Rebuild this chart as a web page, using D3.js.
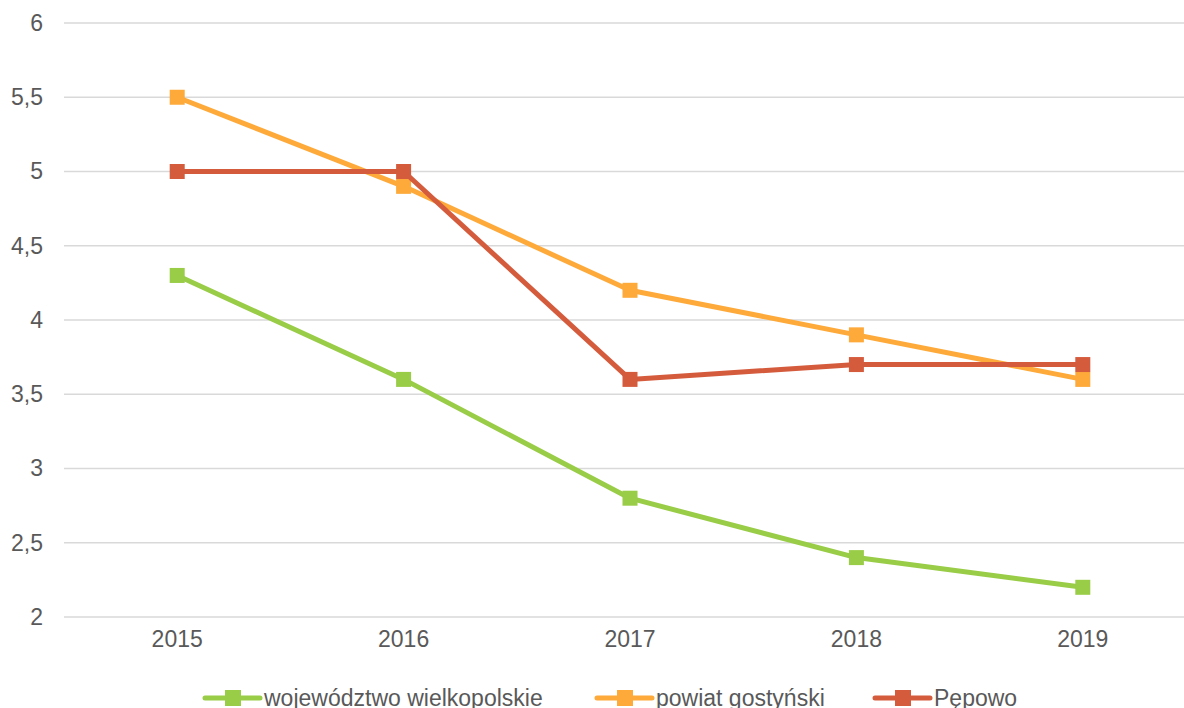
<!DOCTYPE html>
<html>
<head>
<meta charset="utf-8">
<script src="https://cdn.jsdelivr.net/npm/d3@7"></script>
<style>
  body { margin: 0; background: #fff; }
  svg { display: block; font-family: "Liberation Sans", Arial, sans-serif; }
</style>
</head>
<body>
<svg width="1184" height="708"></svg>
<script>
// data
var years = ["2015", "2016", "2017", "2018", "2019"];
var wielkopolskie = [4.3, 3.6, 2.8, 2.4, 2.2];
var gostynski = [5.5, 4.9, 4.2, 3.9, 3.6];
var pepowo = [5, 5, 3.6, 3.7, 3.7];
var yTicks = [2, 2.5, 3, 3.5, 4, 4.5, 5, 5.5, 6];
var seriesNames = ["województwo wielkopolskie", "powiat gostyński", "Pępowo"];
var colors = ["#99cc47", "#fdaa3b", "#d55b3d"];

var series = [wielkopolskie, gostynski, pepowo];

//plot area
var plotLeft = 64, plotRight = 1196, plotTop = 23, plotBottom = 617;

var svg = d3.select("svg");

var x = d3.scaleBand()
  .domain(years)
  .range([plotLeft, plotRight]);
var y = d3.scaleLinear()
  .domain([2, 6])
  .range([plotBottom, plotTop]);

//gridlines
svg.append("g")
  .selectAll("line")
  .data(yTicks)
  .enter().append("line")
  .attr("x1", plotLeft)
  .attr("x2", plotRight)
  .attr("y1", function(d) { return y(d); })
  .attr("y2", function(d) { return y(d); })
  .attr("stroke", "#d9d9d9")
  .attr("stroke-width", 1.5);

//y axis labels
var fmt = function(d) { return String(d).replace(".", ","); };
var yAxis = svg.append("g")
  .attr("transform", "translate(" + plotLeft + ",0)")
  .call(d3.axisLeft(y).tickValues(yTicks).tickFormat(fmt).tickSize(0).tickPadding(21));
yAxis.select(".domain").remove();
yAxis.selectAll("text")
  .attr("fill", "#595959")
  .attr("font-size", 23)
  .attr("font-family", "Liberation Sans, Arial, sans-serif");

//x axis labels
var xAxis = svg.append("g")
  .attr("transform", "translate(0," + plotBottom + ")")
  .call(d3.axisBottom(x).tickSize(0).tickPadding(14));
xAxis.select(".domain").remove();
xAxis.selectAll("text")
  .attr("fill", "#595959")
  .attr("font-size", 23)
  .attr("font-family", "Liberation Sans, Arial, sans-serif");

var cx = function(d, i) { return x(years[i]) + x.bandwidth() / 2; };
var line = d3.line()
  .x(cx)
  .y(function(d) { return y(d); });

//lines and markers
series.forEach(function(s, k) {
  var g = svg.append("g");
  g.append("path")
    .datum(s)
    .attr("d", line)
    .attr("fill", "none")
    .attr("stroke", colors[k])
    .attr("stroke-width", 5)
    .attr("stroke-linejoin", "round");
  g.selectAll("rect")
    .data(s)
    .enter().append("rect")
    .attr("x", function(d, i) { return cx(d, i) - 7.5; })
    .attr("y", function(d) { return y(d) - 7.5; })
    .attr("width", 15)
    .attr("height", 15)
    .attr("fill", colors[k]);
});

//legend
var legendX = [205, 597, 875];
var legend = svg.append("g")
  .selectAll("g")
  .data(seriesNames)
  .enter().append("g")
  .attr("transform", function(d, i) { return "translate(" + legendX[i] + ",698)"; });
legend.append("line")
  .attr("x1", 0).attr("x2", 55)
  .attr("stroke", function(d, i) { return colors[i]; })
  .attr("stroke-width", 5)
  .attr("stroke-linecap", "round");
legend.append("rect")
  .attr("x", 20).attr("y", -8)
  .attr("width", 16).attr("height", 16)
  .attr("fill", function(d, i) { return colors[i]; });
legend.append("text")
  .attr("x", 59)
  .attr("dy", "0.35em")
  .attr("font-size", 23)
  .attr("fill", "#595959")
  .text(function(d) { return d; });
</script>
</body>
</html>
